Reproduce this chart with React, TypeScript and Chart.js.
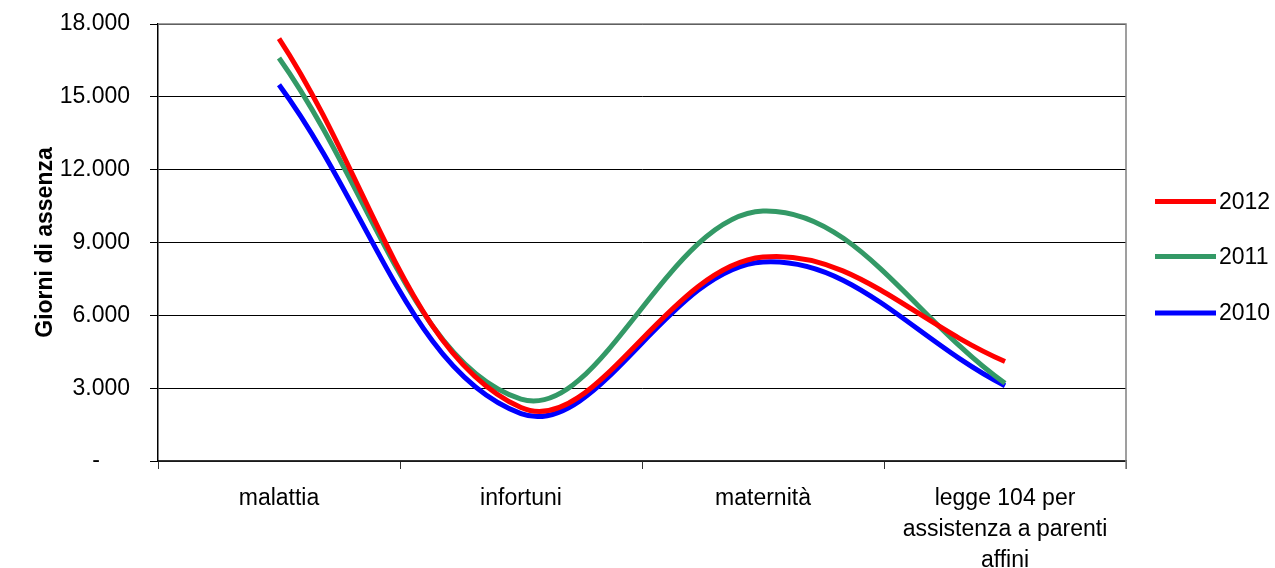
import React, { useEffect, useRef } from "react";
import { Chart, registerables } from "chart.js";

Chart.register(...registerables);

const categories: (string | string[])[] = [
  "malattia",
  "infortuni",
  "maternità",
  ["legge 104 per", "assistenza a parenti", "affini"],
];
const seriesLabels = ["2012", "2011", "2010"];
const values2012 = [17400, 2200, 8400, 4100];
const values2011 = [16600, 2550, 10300, 3200];
const values2010 = [15500, 1950, 8200, 3100];
const seriesColors = ["#FF0000", "#339966", "#0000FF"];
const yTicks = [0, 3000, 6000, 9000, 12000, 15000, 18000];
const yTitle = "Giorni di assenza";

const FONT = "'Liberation Sans', Arial, sans-serif";

function fmt(v: number): string {
  if (v === 0) return "-\u2007\u2007\u2009";
  return String(v).replace(/\B(?=(\d{3})+(?!\d))/g, ".");
}

const customLegendAndBorder = {
  id: "customLegendAndBorder",
  afterDraw(chart: any) {
    const ctx = chart.ctx;
    const area = chart.chartArea;
    ctx.save();
    ctx.strokeStyle = "#808080";
    ctx.lineWidth = 1.5;
    ctx.beginPath();
    ctx.moveTo(area.left, area.top);
    ctx.lineTo(area.right, area.top);
    ctx.lineTo(area.right, area.bottom + 8);
    ctx.stroke();
    const ys = [201.5, 256.5, 313];
    chart.data.datasets.forEach((ds: any, i: number) => {
      ctx.strokeStyle = ds.borderColor;
      ctx.lineWidth = 5;
      ctx.beginPath();
      ctx.moveTo(1155, ys[i]);
      ctx.lineTo(1216, ys[i]);
      ctx.stroke();
      ctx.fillStyle = "#000";
      ctx.font = `23px ${FONT}`;
      ctx.textBaseline = "middle";
      ctx.textAlign = "left";
      ctx.fillText(ds.label, 1219, ys[i] + 1);
    });
    ctx.restore();
  },
};

export default function App() {
  const canvasRef = useRef<HTMLCanvasElement | null>(null);

  useEffect(() => {
    document.body.style.margin = "0";
    const canvas = canvasRef.current;
    if (!canvas) return;
    const seriesValues = [values2012, values2011, values2010];
    const chart = new Chart(canvas, {
      type: "line",
      data: {
        labels: categories,
        datasets: seriesLabels.map((label, i) => ({
          label,
          data: seriesValues[i],
          borderColor: seriesColors[i],
          backgroundColor: seriesColors[i],
          borderWidth: 5,
          pointRadius: 0,
          tension: 0.38,
          fill: false,
          clip: false as any,
        })),
      },
      options: {
        animation: false,
        responsive: false,
        maintainAspectRatio: false,
        layout: { padding: { left: 32, right: 149, top: 24, bottom: 0 } },
        plugins: {
          legend: { display: false },
          tooltip: { enabled: false },
        },
        scales: {
          x: {
            type: "category",
            offset: true,
            grid: {
              display: true,
              offset: true,
              drawOnChartArea: false,
              drawTicks: true,
              tickLength: 8,
              color: "#333",
              lineWidth: 1,
            },
            border: { display: true, color: "#333", width: 1.5 },
            ticks: {
              color: "#000",
              font: { family: FONT, size: 23, lineHeight: 1.35 },
              padding: 14,
              maxRotation: 0,
              minRotation: 0,
              autoSkip: false,
            },
            afterFit: (scale: any) => {
              scale.height = 568 - 461;
              scale.paddingLeft = 0;
              scale.paddingRight = 0;
            },
          },
          y: {
            min: 0,
            max: 18000,
            afterBuildTicks: (scale: any) => {
              scale.ticks = yTicks.map((v) => ({ value: v }));
            },
            grid: {
              color: "#000",
              lineWidth: 1,
              tickLength: 8,
              drawTicks: true,
            },
            border: { display: true, color: "#000", width: 1.5 },
            ticks: {
              color: "#000",
              font: { family: FONT, size: 23 },
              padding: 20,
              callback: (v: any) => fmt(Number(v)),
            },
            title: {
              display: true,
              text: yTitle,
              color: "#000",
              font: { family: FONT, size: 23, weight: "bold" },
              padding: 0,
            },
            afterFit: (scale: any) => {
              scale.width = 158 - 32;
              scale.paddingTop = 0;
              scale.paddingBottom = 0;
            },
          },
        },
      },
      plugins: [customLegendAndBorder],
    });
    return () => chart.destroy();
  }, []);

  return (
    <div style={{ width: 1275, height: 568, background: "#fff" }}>
      <canvas ref={canvasRef} width={1275} height={568} style={{ display: "block" }} />
    </div>
  );
}
